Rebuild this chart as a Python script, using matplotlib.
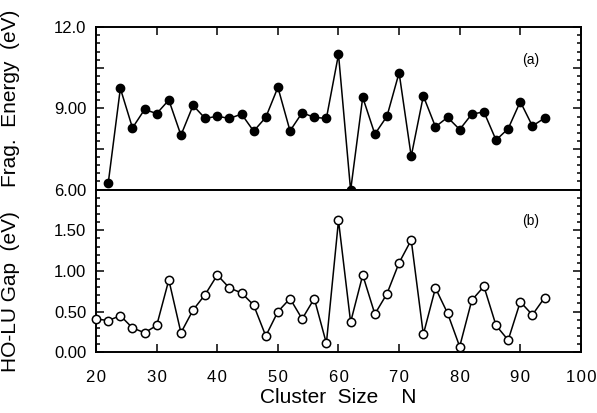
import matplotlib
matplotlib.use('Agg')
import matplotlib.pyplot as plt
from matplotlib.ticker import MultipleLocator, FixedFormatter, FixedLocator

plt.rcParams['font.family'] = ['Liberation Sans', 'DejaVu Sans']

# fragmentation energy, N = 22..94 (even)
n_frag = list(range(22, 96, 2))
frag = [6.24, 9.74, 8.28, 8.96, 8.81, 9.31, 8.01, 9.11, 8.63, 8.71,
        8.63, 8.79, 8.16, 8.67, 9.78, 8.17, 8.84, 8.67, 8.63, 11.0,
        5.97, 9.41, 8.05, 8.71, 10.32, 7.23, 9.46, 8.32, 8.67, 8.22,
        8.79, 8.87, 7.83, 8.25, 9.25, 8.35, 8.64]

# HOMO-LUMO gap, N = 20..94 (even)
n_gap = list(range(20, 96, 2))
gap = [0.41, 0.39, 0.45, 0.30, 0.24, 0.33, 0.89, 0.24, 0.52, 0.71,
       0.95, 0.79, 0.73, 0.58, 0.20, 0.50, 0.66, 0.41, 0.66, 0.11,
       1.62, 0.37, 0.95, 0.47, 0.72, 1.10, 1.38, 0.22, 0.79, 0.48,
       0.07, 0.64, 0.81, 0.33, 0.15, 0.62, 0.46, 0.67]

x_ticks = [20, 30, 40, 50, 60, 70, 80, 90, 100]
x_labels = ['2\u200a0', '3\u200a0', '4\u200a0', '5\u200a0', '6\u200a0',
            '7\u200a0', '8\u200a0', '9\u200a0', '1\u200a0\u200a0']

fig = plt.figure(figsize=(5.97, 4.13), dpi=100)
ax1 = fig.add_axes([0.161, 0.541, 0.812, 0.393])
ax2 = fig.add_axes([0.161, 0.147, 0.812, 0.394], sharex=ax1)

ax1.plot(n_frag, frag, color='black', lw=1.1, marker='o', ms=6,
         mfc='black', mec='black', clip_on=False, zorder=3)
ax2.plot(n_gap, gap, color='black', lw=1.1, marker='o', ms=6,
         mfc='white', mec='black', mew=1.1, clip_on=False, zorder=3)

ax1.set_xlim(20, 100)
ax1.set_ylim(6.0, 12.0)
ax2.set_ylim(0.0, 2.0)

for ax in (ax1, ax2):
    for s in ax.spines.values():
        s.set_linewidth(1.4)
    ax.tick_params(direction='in', which='both', right=True, width=1.1)
    ax.tick_params(which='major', length=6, labelsize=12, pad=7)
    ax.tick_params(which='minor', length=3)
    ax.xaxis.set_major_locator(FixedLocator(x_ticks))

ax1.tick_params(axis='x', top=True, bottom=False, labelbottom=False)
ax2.tick_params(axis='x', top=False, bottom=True, pad=13)
ax2.xaxis.set_major_formatter(FixedFormatter(x_labels))

ax1.yaxis.set_major_locator(FixedLocator([6.0, 7.5, 9.0, 10.5, 12.0]))
ax1.yaxis.set_major_formatter(FixedFormatter(['6.00', '', '9.00', '', '12.0']))
ax1.yaxis.set_minor_locator(MultipleLocator(0.3))

ax2.yaxis.set_major_locator(FixedLocator([0.0, 0.5, 1.0, 1.5]))
ax2.yaxis.set_major_formatter(FixedFormatter(['0.00', '0.50', '1.00', '1.50']))
ax2.yaxis.set_minor_locator(MultipleLocator(0.1))

ax1.set_ylabel('Frag.  Energy  (eV)', fontsize=15)
ax2.set_ylabel('HO-LU Gap  (eV)', fontsize=15)
ax2.set_xlabel('Cluster  Size    N', fontsize=15, labelpad=2)
ax1.yaxis.set_label_coords(-0.158, 0.563)
ax2.yaxis.set_label_coords(-0.158, 0.372)

ax1.text(0.897, 0.797, '(a)', transform=ax1.transAxes, fontsize=10,
         ha='center', va='center')
ax2.text(0.897, 0.805, '(b)', transform=ax2.transAxes, fontsize=10,
         ha='center', va='center')

fig.savefig('out.png', dpi=100)
